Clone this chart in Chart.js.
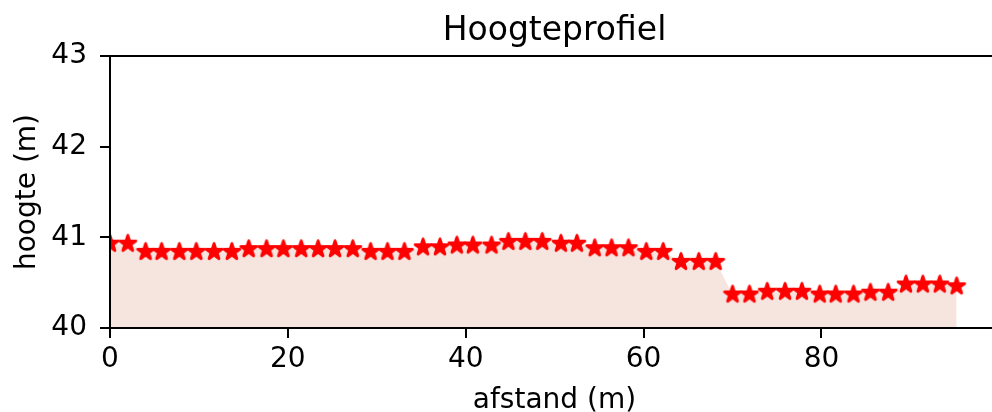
<!DOCTYPE html>
<html>
<head>
<meta charset="utf-8">
<script src="https://cdn.jsdelivr.net/npm/chart.js@4.4.1/dist/chart.umd.min.js"></script>
<style>
  html, body { margin: 0; padding: 0; background: #fff; overflow: hidden; }
  #wrap { width: 1008px; height: 412px; }
</style>
</head>
<body>
<div id="wrap"><canvas id="chart1" width="1008" height="412"></canvas></div>
<script>
// afstand (m) langs het profiel
var afstand = [0, 2.0, 4.0, 5.8, 7.8, 9.7, 11.7, 13.7, 15.6, 17.6,
               19.5, 21.5, 23.4, 25.3, 27.3, 29.3, 31.2, 33.1, 35.2, 37.1,
               39.0, 40.8, 42.9, 44.8, 46.7, 48.6, 50.7, 52.5, 54.5, 56.4,
               58.3, 60.3, 62.2, 64.2, 66.2, 68.1, 70.0, 71.9, 73.9, 75.9,
               77.8, 79.8, 81.6, 83.6, 85.5, 87.5, 89.5, 91.4, 93.3, 95.2];
// hoogte (m)
var hoogte = [40.93, 40.93, 40.84, 40.84, 40.84, 40.84, 40.84, 40.84, 40.87, 40.87,
              40.87, 40.87, 40.87, 40.87, 40.87, 40.84, 40.84, 40.84, 40.89, 40.89,
              40.91, 40.91, 40.91, 40.95, 40.95, 40.95, 40.93, 40.93, 40.88, 40.88,
              40.88, 40.84, 40.84, 40.73, 40.73, 40.73, 40.37, 40.37, 40.40, 40.40,
              40.40, 40.37, 40.37, 40.37, 40.39, 40.39, 40.48, 40.48, 40.48, 40.46];
var xTicks = [0, 20, 40, 60, 80];
var yTicks = [40, 41, 42, 43];

var points = afstand.map(function(x, i) { return {x: x, y: hoogte[i]}; });

// matplotlib-achtige ster marker
function makeStar(r, color) {
  var c = document.createElement('canvas');
  c.width = 28; c.height = 28;
  var g = c.getContext('2d');
  g.translate(14, 14);
  g.beginPath();
  for (var k = 0; k < 10; k++) {
    var rad = (k % 2 === 0) ? r : r * 0.381966;
    var a = -Math.PI / 2 + k * Math.PI / 5;
    if (k === 0) g.moveTo(rad * Math.cos(a), rad * Math.sin(a));
    else g.lineTo(rad * Math.cos(a), rad * Math.sin(a));
  }
  g.closePath();
  g.fillStyle = color;
  g.fill();
  g.lineJoin = 'round';
  g.lineWidth = 2.8;
  g.strokeStyle = color;
  g.stroke();
  return c;
}
var star = makeStar(8.4, '#ff0000');

// kader rondom de grafiek
var frame = {
  id: 'frame',
  afterDatasetsDraw: function(chart) {
    var a = chart.chartArea, ctx = chart.ctx;
    ctx.save();
    ctx.strokeStyle = '#000';
    ctx.lineWidth = 2;
    ctx.strokeRect(a.left, a.top, a.right - a.left, a.bottom - a.top);
    ctx.restore();
  }
};

var font = 'DejaVu Sans';
var ctx = document.getElementById('chart1').getContext('2d');
var myChart = new Chart(ctx, {
  type: 'scatter',
  data: {
    datasets: [{
      label: 'hoogte',
      data: points,
      showLine: true,
      borderWidth: 0,
      fill: 'start',
      backgroundColor: '#f6e4de',
      pointStyle: star,
      pointRadius: 9,
      pointHoverRadius: 9
    }]
  },
  plugins: [frame],
  options: {
    responsive: false,
    animation: false,
    events: [],
    layout: { padding: { left: 0, right: 3, top: 0, bottom: 0 } },
    plugins: {
      legend: { display: false },
      tooltip: { enabled: false },
      title: {
        display: true,
        text: 'Hoogteprofiel',
        fullSize: false,
        color: '#000',
        font: { family: font, size: 33, weight: 'normal', lineHeight: 1 },
        padding: { top: 15, bottom: 8 }
      }
    },
    scales: {
      x: {
        type: 'linear',
        min: 0,
        max: 99.96,
        afterBuildTicks: function(scale) {
          scale.ticks = xTicks.map(function(v) { return {value: v}; });
        },
        afterFit: function(scale) { scale.height = 84; },
        border: { display: false },
        grid: { drawOnChartArea: false, drawTicks: true, tickLength: 10, color: '#000', lineWidth: 2 },
        ticks: { color: '#000', padding: 5, maxRotation: 0, font: { family: font, size: 28 } },
        title: {
          display: true,
          text: 'afstand (m)',
          color: '#000',
          font: { family: font, size: 28, lineHeight: 1 },
          padding: { top: 0, bottom: -3 }
        }
      },
      y: {
        type: 'linear',
        min: 40,
        max: 43,
        afterBuildTicks: function(scale) {
          scale.ticks = yTicks.map(function(v) { return {value: v}; });
        },
        afterFit: function(scale) { scale.width = 110; },
        border: { display: false },
        grid: { drawOnChartArea: false, drawTicks: true, tickLength: 10, color: '#000', lineWidth: 2 },
        ticks: { color: '#000', padding: 13, font: { family: font, size: 28 } },
        title: {
          display: true,
          text: 'hoogte (m)',
          color: '#000',
          font: { family: font, size: 28, lineHeight: 1 },
          padding: { top: 14, bottom: 0 }
        }
      }
    }
  }
});
</script>
</body>
</html>
